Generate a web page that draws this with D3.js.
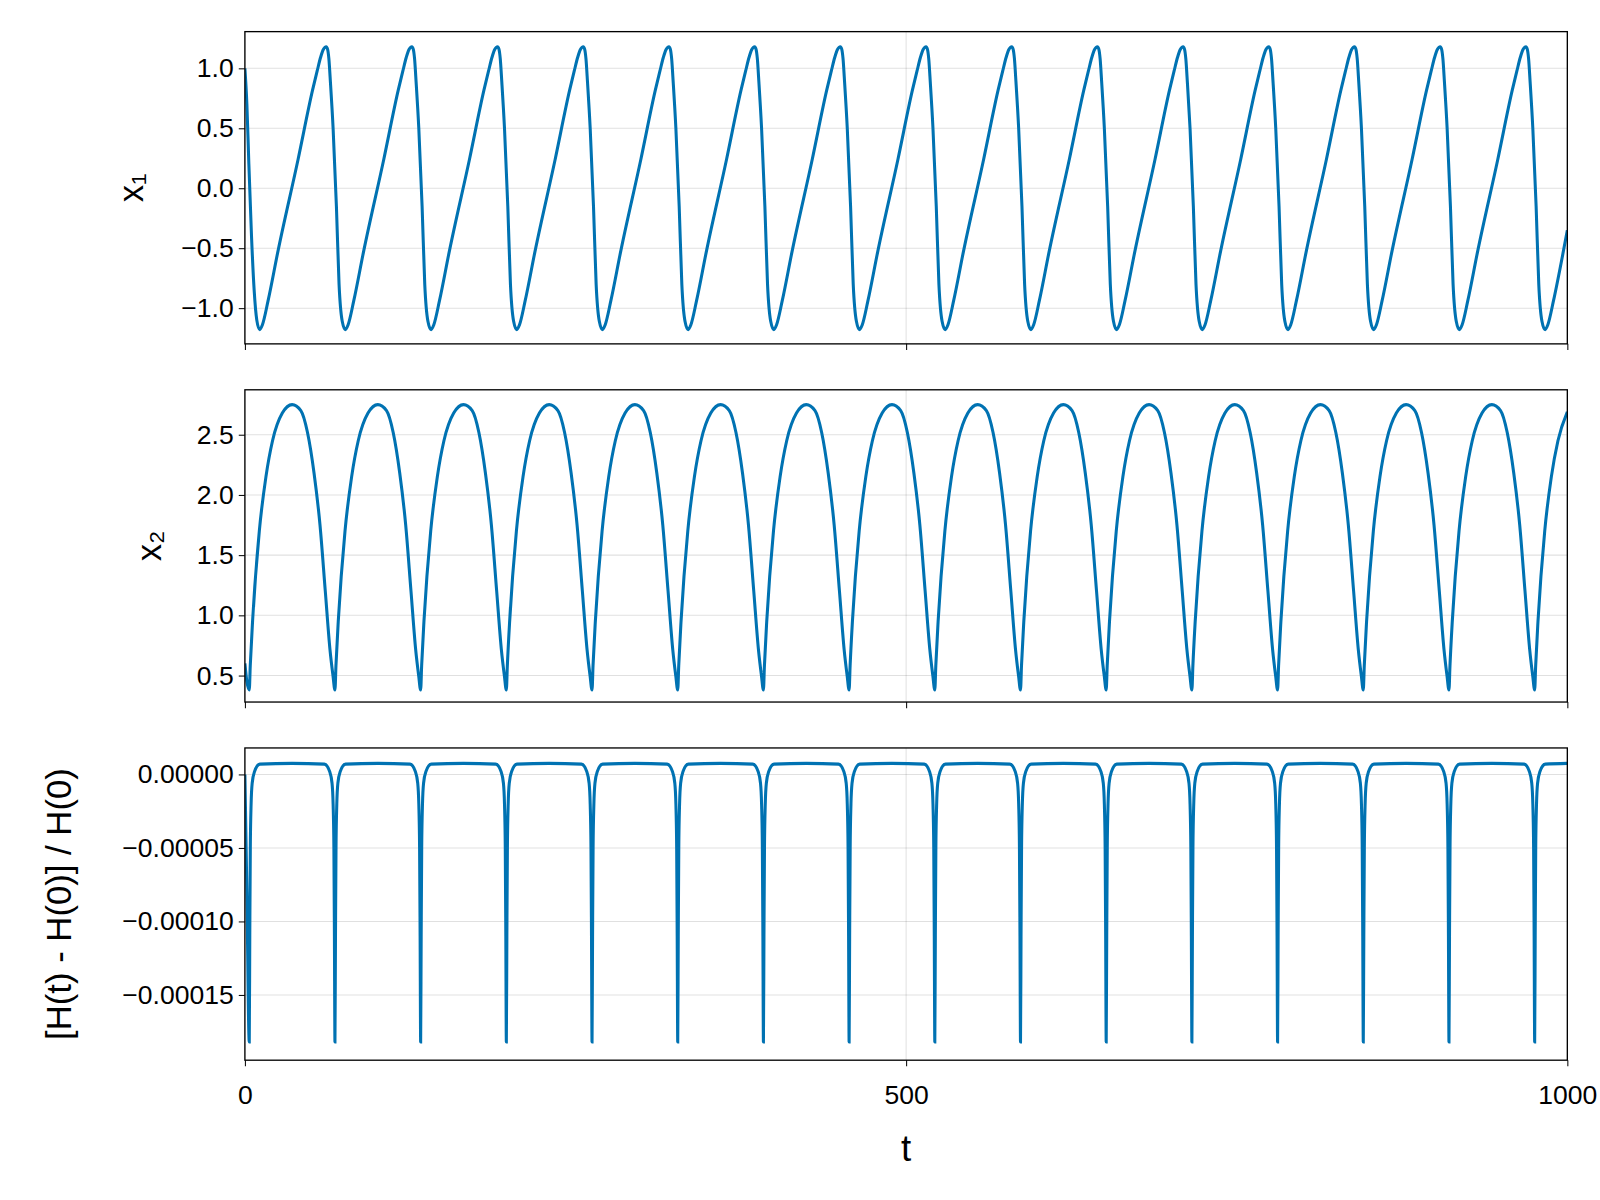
<!DOCTYPE html>
<html>
<head>
<meta charset="utf-8">
<script src="https://cdn.jsdelivr.net/npm/d3@7"></script>
<style>
  body { margin: 0; background: #fff; }
  text { font-family: "Liberation Sans", Arial, sans-serif; fill: #000; }
</style>
</head>
<body>
<svg id="chart" width="1600" height="1200"></svg>
<script>
// times of the x1 troughs and of the x2 / energy minima
const x1Troughs = [11.2, 76, 140.8, 205.6, 270.4, 335.2, 400, 464.8, 529.6, 594.4, 659.2, 724, 788.8, 853.6, 918.4, 983.2];
const x2Minima = [3.3, 68.1, 132.9, 197.7, 262.5, 327.3, 392.1, 456.9, 521.7, 586.5, 651.3, 716.1, 780.9, 845.7, 910.5, 975.3];

// one cycle of each curve as (phase, value), period 64.8
const x1Phase = [0, 2, 6.3, 13.9, 29, 40, 43.5, 46, 48, 49.3, 50.3, 51.3, 52.3, 53.5, 55.5, 58, 60, 62.4, 64.8];
const x1Cycle = [-1.18, -1.14, -0.94, -0.52, 0.24, 0.82, 0.98, 1.09, 1.155, 1.175, 1.18, 1.16, 1.08, 0.88, 0.5, -0.15, -0.8, -1.11, -1.18];
const x1Start = [[0, 1.0], [1.5, 0.7], [3, 0.2], [5, -0.4], [7, -0.85], [9, -1.1]];
const x1End = [[1000, -0.35]];

const x2Phase = [0, 0.75, 2.5, 7.6, 12.6, 17.6, 25, 32.4, 39, 44, 49, 53.5, 57.5, 61, 63.3, 64.8];
const x2Cycle = [0.38, 0.58, 0.95, 1.7, 2.15, 2.45, 2.68, 2.75, 2.7, 2.52, 2.18, 1.75, 1.2, 0.72, 0.5, 0.38];
const x2Start = [[0, 0.6], [1.5, 0.45]];
const x2End = [[1000, 2.69]];

const hPhase = [0, 0.4, 0.8, 1.4, 2.2, 4, 8, 32.4, 56.8, 60.8, 62.6, 63.4, 64, 64.4, 64.8];
const hCycle = [-0.000182, -0.00011, -0.00005, -0.00002, -0.000006, 0.000002, 0.000007, 0.0000075, 0.000007, 0.000002, -0.000006, -0.00002, -0.00005, -0.00011, -0.000182];
const hStart = [[0, 0], [1.5, -0.00008]];
const hEnd = [[1000, 0.0000075]];

const xTicks = [0, 500, 1000];
const x1Ticks = [-1.0, -0.5, 0.0, 0.5, 1.0];
const x2Ticks = [0.5, 1.0, 1.5, 2.0, 2.5];
const hTicks = [-0.00015, -0.0001, -0.00005, 0];

function buildSeries(start, starts, phase, cycle, end) {
  const pts = start.slice();
  starts.forEach(s => phase.forEach((p, i) => {
    const t = s + p;
    if (t < 1000 && t > pts[pts.length - 1][0]) pts.push([t, cycle[i]]);
  }));
  return pts.concat(end);
}

const svg = d3.select("#chart").append("g").attr("transform", "scale(1.0204)");
const x = d3.scaleLinear().domain([0, 1000]).range([240, 1536]);
const blue = "#0072b2";
const fmtMinus = s => s.replace("-", "−");

const panels = [
  { top: 31, bottom: 337, domain: [-1.298, 1.306], ticks: x1Ticks, fmt: d => fmtMinus(d3.format(".1f")(d)),
    data: buildSeries(x1Start, x1Troughs, x1Phase, x1Cycle, x1End), label: "x₁", lx: 128, size: 34 },
  { top: 382, bottom: 688, domain: [0.28, 2.873], ticks: x2Ticks, fmt: d => d3.format(".1f")(d),
    data: buildSeries(x2Start, x2Minima, x2Phase, x2Cycle, x2End), label: "x₂", lx: 146, size: 34 },
  { top: 733, bottom: 1039, domain: [-0.0001944, 0.000018], ticks: hTicks, fmt: d => fmtMinus(d3.format(".5f")(d)),
    data: buildSeries(hStart, x2Minima, hPhase, hCycle, hEnd), label: "[H(t) - H(0)] / H(0)", lx: 58, size: 34 }
];

panels.forEach((p, k) => {
  const y = d3.scaleLinear().domain(p.domain).range([p.bottom, p.top]);
  const g = svg.append("g");
  // grid
  g.selectAll(".gy").data(p.ticks).enter().append("line")
    .attr("x1", 240).attr("x2", 1536).attr("y1", d => y(d)).attr("y2", d => y(d))
    .attr("stroke", "#000").attr("stroke-opacity", 0.12);
  g.selectAll(".gx").data(xTicks).enter().append("line")
    .attr("x1", d => x(d)).attr("x2", d => x(d)).attr("y1", p.top).attr("y2", p.bottom)
    .attr("stroke", "#000").attr("stroke-opacity", 0.12);
  // line
  const clip = "clip" + k;
  svg.append("clipPath").attr("id", clip).append("rect")
    .attr("x", 240).attr("y", p.top).attr("width", 1296).attr("height", p.bottom - p.top);
  g.append("path").datum(p.data)
    .attr("clip-path", `url(#${clip})`)
    .attr("fill", "none").attr("stroke", blue).attr("stroke-width", 3)
    .attr("d", d3.line().x(d => x(d[0])).y(d => y(d[1])).curve(d3.curveMonotoneX));
  // frame
  g.append("rect").attr("x", 240).attr("y", p.top).attr("width", 1296).attr("height", p.bottom - p.top)
    .attr("fill", "none").attr("stroke", "#000").attr("stroke-width", 1.3);
  // y axis
  const ya = g.append("g").attr("transform", "translate(240,0)")
    .call(d3.axisLeft(y).tickValues(p.ticks).tickFormat(p.fmt).tickSize(6).tickPadding(5));
  ya.select(".domain").remove();
  ya.selectAll("text").style("font-size", "26px");
  // x axis
  const xa = g.append("g").attr("transform", `translate(0,${p.bottom})`)
    .call(d3.axisBottom(x).tickValues(xTicks).tickSize(6).tickPadding(18).tickFormat(k === 2 ? d3.format("d") : ""));
  xa.select(".domain").remove();
  xa.selectAll("text").style("font-size", "26px");
  // y label
  g.append("text").attr("transform", `translate(${p.lx},${(p.top + p.bottom) / 2}) rotate(-90)`)
    .attr("text-anchor", "middle").attr("dy", "0.35em").style("font-size", p.size + "px").text(p.label);
});

svg.append("text").attr("x", 888).attr("y", 1138).attr("text-anchor", "middle")
  .style("font-size", "36px").text("t");
</script>
</body>
</html>
